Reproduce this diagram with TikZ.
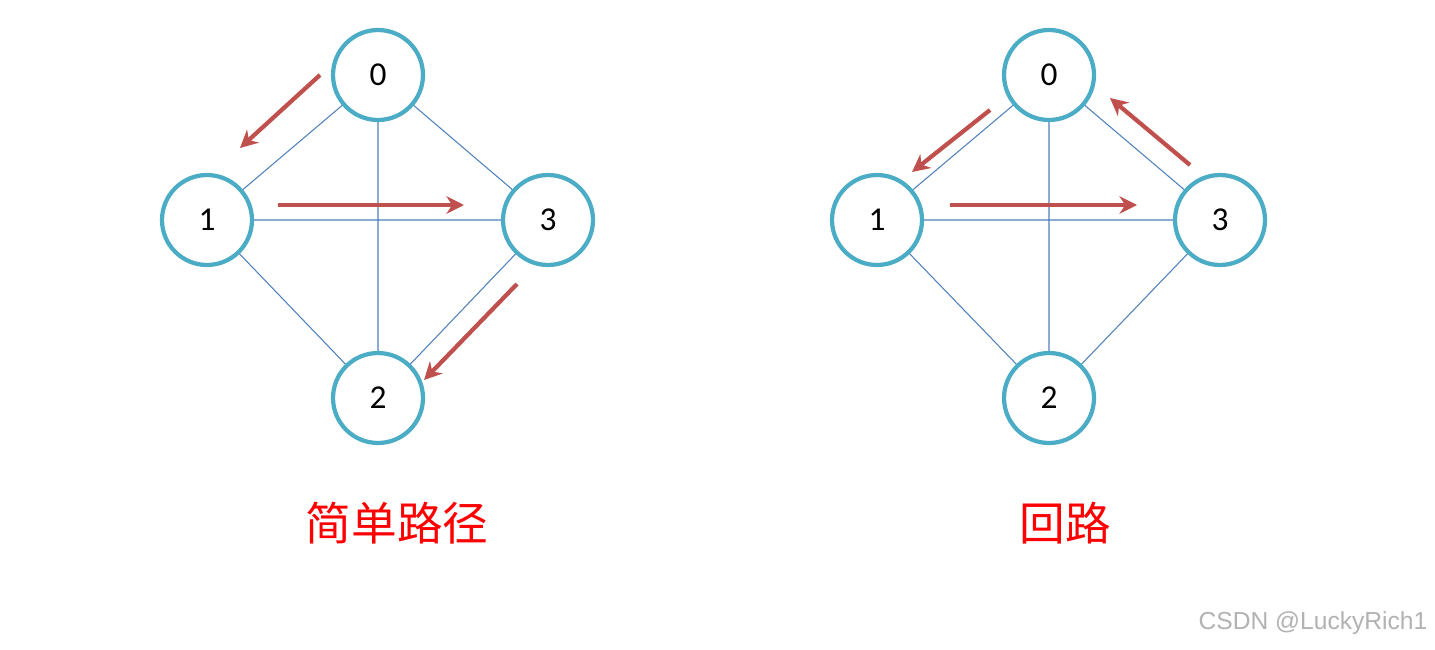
\documentclass[tikz,border=0pt]{standalone}
\usepackage{fontspec}
\setmainfont{Carlito}
\newfontfamily\cjk{Noto Sans CJK SC}
\newfontfamily\wmfont{Liberation Sans}
\usetikzlibrary{arrows.meta}
\definecolor{ringblue}{HTML}{4BACC6}
\definecolor{edgeblue}{HTML}{4F81BD}
\definecolor{pathred}{HTML}{C0504D}
\tikzset{vertex/.style={circle,draw=ringblue,line width=2.4pt,fill=white,minimum size=1.8cm,font=\fontsize{19}{19}\selectfont},
         link/.style={draw=edgeblue,line width=0.6pt},
         walk/.style={draw=pathred,line width=2.4pt,-{Stealth[length=10pt,width=10pt]}},
         title/.style={text=red,font=\cjk\fontsize{26}{26}\selectfont}}
\begin{document}
\begin{tikzpicture}[x=0.02cm,y=-0.02cm]
\useasboundingbox (0,0) rectangle (1435,649);
\fill[white] (0,0) rectangle (1435,649);
% simple path
\foreach \n/\x/\y in {0/378/75,1/207/220,3/548/220,2/378/398}
  \coordinate (sA\n) at (\x,\y);
% cycle
\foreach \n/\x/\y in {0/1049/75,1/877/220,3/1220/220,2/1049/398}
  \coordinate (cB\n) at (\x,\y);
\foreach \g in {sA,cB}{
  \path[link] (\g0) -- (\g1) (\g0) -- (\g3) (\g0) -- (\g2)
              (\g1) -- (\g3) (\g1) -- (\g2) (\g3) -- (\g2);
}
% rings over edges
\foreach \n in {0,1,2,3}{
  \node[vertex] (sN\n) at (sA\n) {\n};
  \node[vertex] (cN\n) at (cB\n) {\n};
}
% arrows
\coordinate (a1s) at (320,75);   \coordinate (a1e) at (240,148);
\coordinate (a2s) at (278,205);  \coordinate (a2e) at (464,205);
\coordinate (a3s) at (517,284);  \coordinate (a3e) at (424,380);
\coordinate (b1s) at (990,110);  \coordinate (b1e) at (912,172);
\coordinate (b2s) at (950,205);  \coordinate (b2e) at (1137,205);
\coordinate (b3s) at (1190,165); \coordinate (b3e) at (1110,98);
\draw[walk] (a1s) -- (a1e);
\draw[walk] (a2s) -- (a2e);
\draw[walk] (a3s) -- (a3e);
\draw[walk] (b1s) -- (b1e);
\draw[walk] (b2s) -- (b2e);
\draw[walk] (b3s) -- (b3e);
\node[title] (tA) at (397,523) {简单路径};
\node[title] (tB) at (1065,523) {回路};
\node[text=gray!60,font=\wmfont\fontsize{14}{14}\selectfont] (wm) at (1313,623) {CSDN @LuckyRich1};
\end{tikzpicture}
\end{document}
